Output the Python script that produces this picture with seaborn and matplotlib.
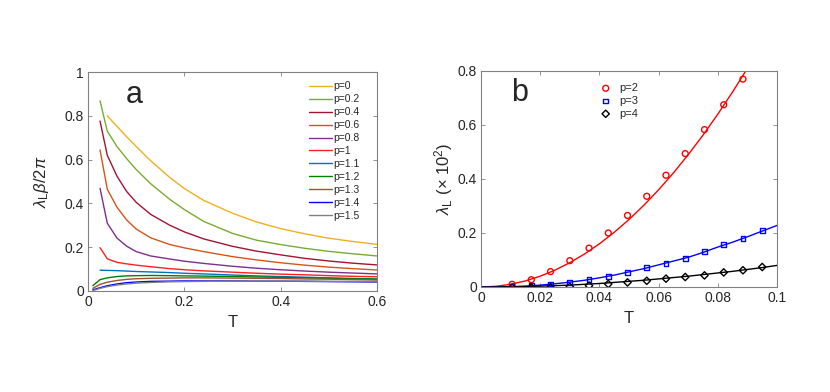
import numpy as np
import pandas as pd
import matplotlib
matplotlib.use('Agg')
import matplotlib.pyplot as plt
import seaborn as sns

# ---- panel a data ----
T_a = [0.01, 0.025, 0.04, 0.06, 0.08, 0.1, 0.13, 0.17, 0.2, 0.24, 0.3, 0.35, 0.4, 0.45, 0.5, 0.55, 0.6]
nan = np.nan
p00 = [nan, nan, 0.80, 0.752, 0.705, 0.66, 0.595, 0.518, 0.468, 0.414, 0.355, 0.315, 0.285, 0.261, 0.241, 0.226, 0.213]
p02 = [nan, 0.868, 0.73, 0.66, 0.605, 0.555, 0.49, 0.418, 0.372, 0.318, 0.263, 0.232, 0.212, 0.195, 0.181, 0.17, 0.16]
p04 = [nan, 0.776, 0.62, 0.525, 0.455, 0.405, 0.35, 0.30, 0.27, 0.238, 0.204, 0.182, 0.165, 0.149, 0.137, 0.127, 0.119]
p06 = [nan, 0.644, 0.465, 0.383, 0.325, 0.283, 0.243, 0.212, 0.197, 0.18, 0.157, 0.142, 0.129, 0.118, 0.109, 0.102, 0.096]
p08 = [nan, 0.469, 0.31, 0.242, 0.205, 0.18, 0.16, 0.146, 0.136, 0.126, 0.113, 0.104, 0.097, 0.091, 0.086, 0.082, 0.078]
p10 = [nan, 0.198, 0.147, 0.131, 0.124, 0.118, 0.111, 0.102, 0.097, 0.092, 0.086, 0.081, 0.077, 0.074, 0.07, 0.067, 0.065]
p11 = [nan, 0.095, 0.094, 0.093, 0.091, 0.089, 0.087, 0.084, 0.081, 0.078, 0.073, 0.069, 0.066, 0.063, 0.06, 0.057, 0.055]
p12 = [0.024, 0.052, 0.060, 0.066, 0.069, 0.070, 0.071, 0.070, 0.069, 0.068, 0.066, 0.064, 0.062, 0.060, 0.058, 0.056, 0.054]
p13 = [0.012, 0.030, 0.040, 0.048, 0.053, 0.056, 0.058, 0.059, 0.060, 0.060, 0.059, 0.058, 0.057, 0.055, 0.054, 0.052, 0.050]
p14 = [0.005, 0.015, 0.024, 0.032, 0.038, 0.041, 0.044, 0.045, 0.046, 0.046, 0.046, 0.045, 0.045, 0.044, 0.043, 0.042, 0.041]
p15 = [0.002, 0.012, 0.020, 0.027, 0.032, 0.036, 0.039, 0.042, 0.043, 0.044, 0.045, 0.045, 0.045, 0.045, 0.044, 0.044, 0.043]

labels_a = ['p=0', 'p=0.2', 'p=0.4', 'p=0.6', 'p=0.8', 'p=1', 'p=1.1', 'p=1.2', 'p=1.3', 'p=1.4', 'p=1.5']
series_a = [p00, p02, p04, p06, p08, p10, p11, p12, p13, p14, p15]
colors_a = ['#EDB120', '#77AC30', '#A2142F', '#D95319', '#7E2F8E', '#FF2020',
            '#0072BD', '#008000', '#A0522D', '#0000FF', '#808080']

# ---- panel b data ----
T_pts = [0.0105, 0.017, 0.0235, 0.030, 0.0365, 0.043, 0.0495, 0.056, 0.0625, 0.069, 0.0755, 0.082, 0.0885, 0.095]
pts_p2 = [0.010, 0.027, 0.057, 0.0975, 0.144, 0.200, 0.265, 0.336, 0.414, 0.494, 0.583, 0.675, 0.770, nan]
pts_p3 = [0.001, 0.006, 0.011, 0.017, 0.027, 0.040, 0.054, 0.073, 0.088, 0.107, 0.130, 0.157, 0.181, 0.210]
pts_p4 = [-0.003, -0.002, -0.001, 0.001, 0.005, 0.011, 0.017, 0.023, 0.031, 0.037, 0.043, 0.054, 0.062, 0.074]

T_fit = [0.0, 0.005, 0.01, 0.015, 0.02, 0.025, 0.03, 0.035, 0.04, 0.045, 0.05, 0.055, 0.06,
         0.065, 0.07, 0.075, 0.08, 0.085, 0.09, 0.095, 0.1]
fit_p2 = [0.0, 0.0025, 0.010, 0.0225, 0.040, 0.0625, 0.090, 0.1225, 0.160, 0.2025, 0.250, 0.3025, 0.360,
          0.4225, 0.490, 0.5625, 0.640, 0.7225, 0.810, nan, nan]
fit_p3 = [0.0, 0.0003, 0.001, 0.003, 0.007, 0.012, 0.018, 0.025, 0.034, 0.044, 0.056, 0.068, 0.082,
          0.096, 0.110, 0.128, 0.148, 0.166, 0.186, 0.207, 0.228]
fit_p4 = [0.0, 0.0002, 0.001, 0.002, 0.003, 0.005, 0.007, 0.010, 0.013, 0.017, 0.021, 0.025, 0.030,
          0.035, 0.040, 0.046, 0.052, 0.058, 0.065, 0.072, 0.080]

sns.set_theme(style='white')
plt.rcParams['font.family'] = ['Liberation Sans', 'DejaVu Sans']
plt.rcParams['mathtext.fontset'] = 'custom'
plt.rcParams['mathtext.rm'] = 'Liberation Sans'
plt.rcParams['mathtext.it'] = 'Liberation Sans:italic'

fig = plt.figure(figsize=(8.3, 3.92), dpi=100)
ax1 = fig.add_axes([88/830, 1-291/392, (377-88)/830, (291-72)/392])
ax2 = fig.add_axes([481/830, 1-287/392, (777-481)/830, (287-71)/392])

# panel a
df_a = pd.DataFrame({
    'T': np.tile(T_a, len(labels_a)),
    'val': np.concatenate(series_a),
    'p': np.repeat(labels_a, len(T_a)),
}).dropna()
sns.lineplot(data=df_a, x='T', y='val', hue='p', hue_order=labels_a, palette=colors_a,
             linewidth=1, ax=ax1, legend='full')
h, l = ax1.get_legend_handles_labels()
ax1.legend(h, l, loc='upper right', frameon=False, fontsize=7.5, labelspacing=0.28,
           handlelength=2.2, handletextpad=0.1, borderaxespad=0.3, bbox_to_anchor=(0.965, 0.99))
ax1.set_xlim(0, 0.6)
ax1.set_ylim(0, 1)
ax1.set_xticks([0, 0.2, 0.4, 0.6])
ax1.set_xticklabels(['0', '0.2', '0.4', '0.6'])
ax1.set_yticks([0, 0.2, 0.4, 0.6, 0.8, 1])
ax1.set_yticklabels(['0', '0.2', '0.4', '0.6', '0.8', '1'])
ax1.set_xlabel('T', fontsize=12)
ax1.set_ylabel(r'$\lambda_{\rm L}\beta/2\pi$', fontsize=12, labelpad=10)
ax1.text(0.13, 0.86, 'a', transform=ax1.transAxes, fontsize=22)

# panel b
for c, m, lab, pts, fit in [('#FF0000', 'o', 'p=2', pts_p2, fit_p2),
                            ('#0000FF', 's', 'p=3', pts_p3, fit_p3),
                            ('#000000', 'D', 'p=4', pts_p4, fit_p4)]:
    sz = 18 if m == 'o' else (12 if m == 's' else 14)
    sns.scatterplot(x=T_pts, y=pts, marker=m, s=sz, facecolor='none', edgecolor=c,
                    linewidth=1, ax=ax2, label=lab, zorder=3)
    sns.lineplot(x=T_fit, y=fit, color=c, linewidth=1, ax=ax2)
ax2.legend(loc='upper left', bbox_to_anchor=(0.35, 0.99), frameon=False, fontsize=8,
           labelspacing=0.25, handletextpad=0.2, markerscale=1.0)
ax2.set_xlim(0, 0.1)
ax2.set_ylim(0, 0.8)
ax2.set_xticks([0, 0.02, 0.04, 0.06, 0.08, 0.1])
ax2.set_xticklabels(['0', '0.02', '0.04', '0.06', '0.08', '0.1'])
ax2.set_yticks([0, 0.2, 0.4, 0.6, 0.8])
ax2.set_yticklabels(['0', '0.2', '0.4', '0.6', '0.8'])
ax2.set_xlabel('T', fontsize=12)
ax2.set_ylabel(r'$\lambda_{\rm L}\ (\times\ 10^2)$', fontsize=12, labelpad=2)
ax2.text(0.1, 0.86, 'b', transform=ax2.transAxes, fontsize=22)

for ax in (ax1, ax2):
    ax.tick_params(direction='in', length=3, width=0.6, color='#808080',
                   labelsize=10, top=True, right=True, bottom=True, left=True, pad=3)
    for s in ax.spines.values():
        s.set_color('#808080')
        s.set_linewidth(0.8)

fig.savefig('out.png', dpi=100)
